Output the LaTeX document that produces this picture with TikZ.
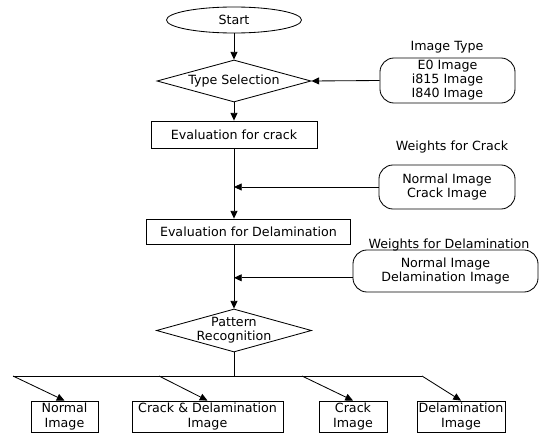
\documentclass[tikz,border=0pt]{standalone}
\usepackage{fontspec}
\setmainfont{DejaVu Sans}
\usepackage{tikz}
\usetikzlibrary{shapes.geometric, arrows.meta, positioning}

\begin{document}
\begin{tikzpicture}[
    x=0.025cm, y=-0.025cm,
    every node/.style={font=\fontsize{9}{10}\selectfont},
    procbox/.style={
        rectangle,
        draw=black,
        line width=0.6pt,
        inner sep=1pt,
        align=center
    },
    inputbox/.style={
        procbox,
        rounded corners=10pt
    },
    decision/.style={
        diamond,
        draw=black,
        line width=0.6pt,
        inner sep=0pt,
        aspect=3.6,
        align=center
    },
    terminal/.style={
        ellipse,
        draw=black,
        line width=0.6pt,
        inner sep=0pt
    },
    arrow/.style={
        -{Triangle[length=5.5pt, width=5pt]},
        line width=0.6pt,
        draw=black
    },
    line/.style={
        line width=0.6pt,
        draw=black
    }
]
    \useasboundingbox (0,0) rectangle (542,434);

    % Main flow
    \node[terminal, minimum width=3.375cm, minimum height=0.65cm] (start) at (234,20) {Start};
    \node[decision, minimum width=3.85cm, minimum height=1.05cm] (typesel) at (234,81) {Type Selection};
    \node[procbox, minimum width=4.15cm, minimum height=0.675cm] (evalcrack) at (234,134.5) {Evaluation for crack};
    \node[procbox, minimum width=5.1cm, minimum height=0.625cm, anchor=west] (evaldel) at (146,231.5) {Evaluation for Delamination};
    \node[decision, minimum width=3.875cm, minimum height=1.075cm] (patrec) at (234,330.5) {};
    \node[align=center] (patrectext) at (patrec) {Pattern\\Recognition};

    % Inputs on the right
    \node (imgtypelbl) at (447,47) {Image Type};
    \node[inputbox, minimum width=3.375cm, minimum height=1.125cm] (imgtype) at (447.5,80.5) {E0 Image\\i815 Image\\I840 Image};
    \node (wcracklbl) at (452,147) {Weights for Crack};
    \node[inputbox, minimum width=3.4cm, minimum height=1.1cm] (wcrack) at (447,187) {Normal Image\\Crack Image};
    \node (wdellbl) at (449,245) {Weights for Delamination};
    \node[inputbox, minimum width=4.625cm, minimum height=1.05cm] (wdel) at (445.5,271) {Normal Image\\Delamination Image};

    % Results
    \node[procbox, minimum width=1.675cm, minimum height=0.775cm] (normal) at (64.5,416.5) {Normal\\Image};
    \node[procbox, minimum width=3.775cm, minimum height=0.775cm] (crackdel) at (207.5,416.5) {Crack \& Delamination\\Image};
    \node[procbox, minimum width=1.7cm, minimum height=0.775cm] (crack) at (353,416.5) {Crack\\Image};
    \node[procbox, minimum width=2.2cm, minimum height=0.775cm] (delam) at (461,416.5) {Delamination\\Image};

    % Branch points
    \coordinate (b1) at (13,376);
    \coordinate (b2) at (159,376);
    \coordinate (b3) at (302,376);
    \coordinate (b4) at (422,376);

    % Arrows
    \draw[arrow] (start.south) -- (typesel.north);
    \draw[arrow] (imgtype.west) -- (typesel.east);
    \draw[arrow] (typesel.south) -- (evalcrack.north);
    \draw[arrow] (evalcrack.south) -- (evalcrack.south |- evaldel.north);
    \draw[arrow] (wcrack.west) -- (wcrack.west -| evalcrack.south);
    \draw[arrow] (evaldel.south -| patrec.north) -- (patrec.north);
    \draw[arrow] ([yshift=-0.17cm]wdel.west) -- ([yshift=-0.17cm]wdel.west -| patrec.north);
    \draw[line] (patrec.south) -- (patrec.south |- b1);
    \draw[line] (b1) -- (b4);
    \draw[arrow] (b1) -- (normal.north);
    \draw[arrow] (b2) -- (crackdel.north);
    \draw[arrow] (b3) -- (crack.north);
    \draw[arrow] (b4) -- (delam.north);

\end{tikzpicture}
\end{document}
